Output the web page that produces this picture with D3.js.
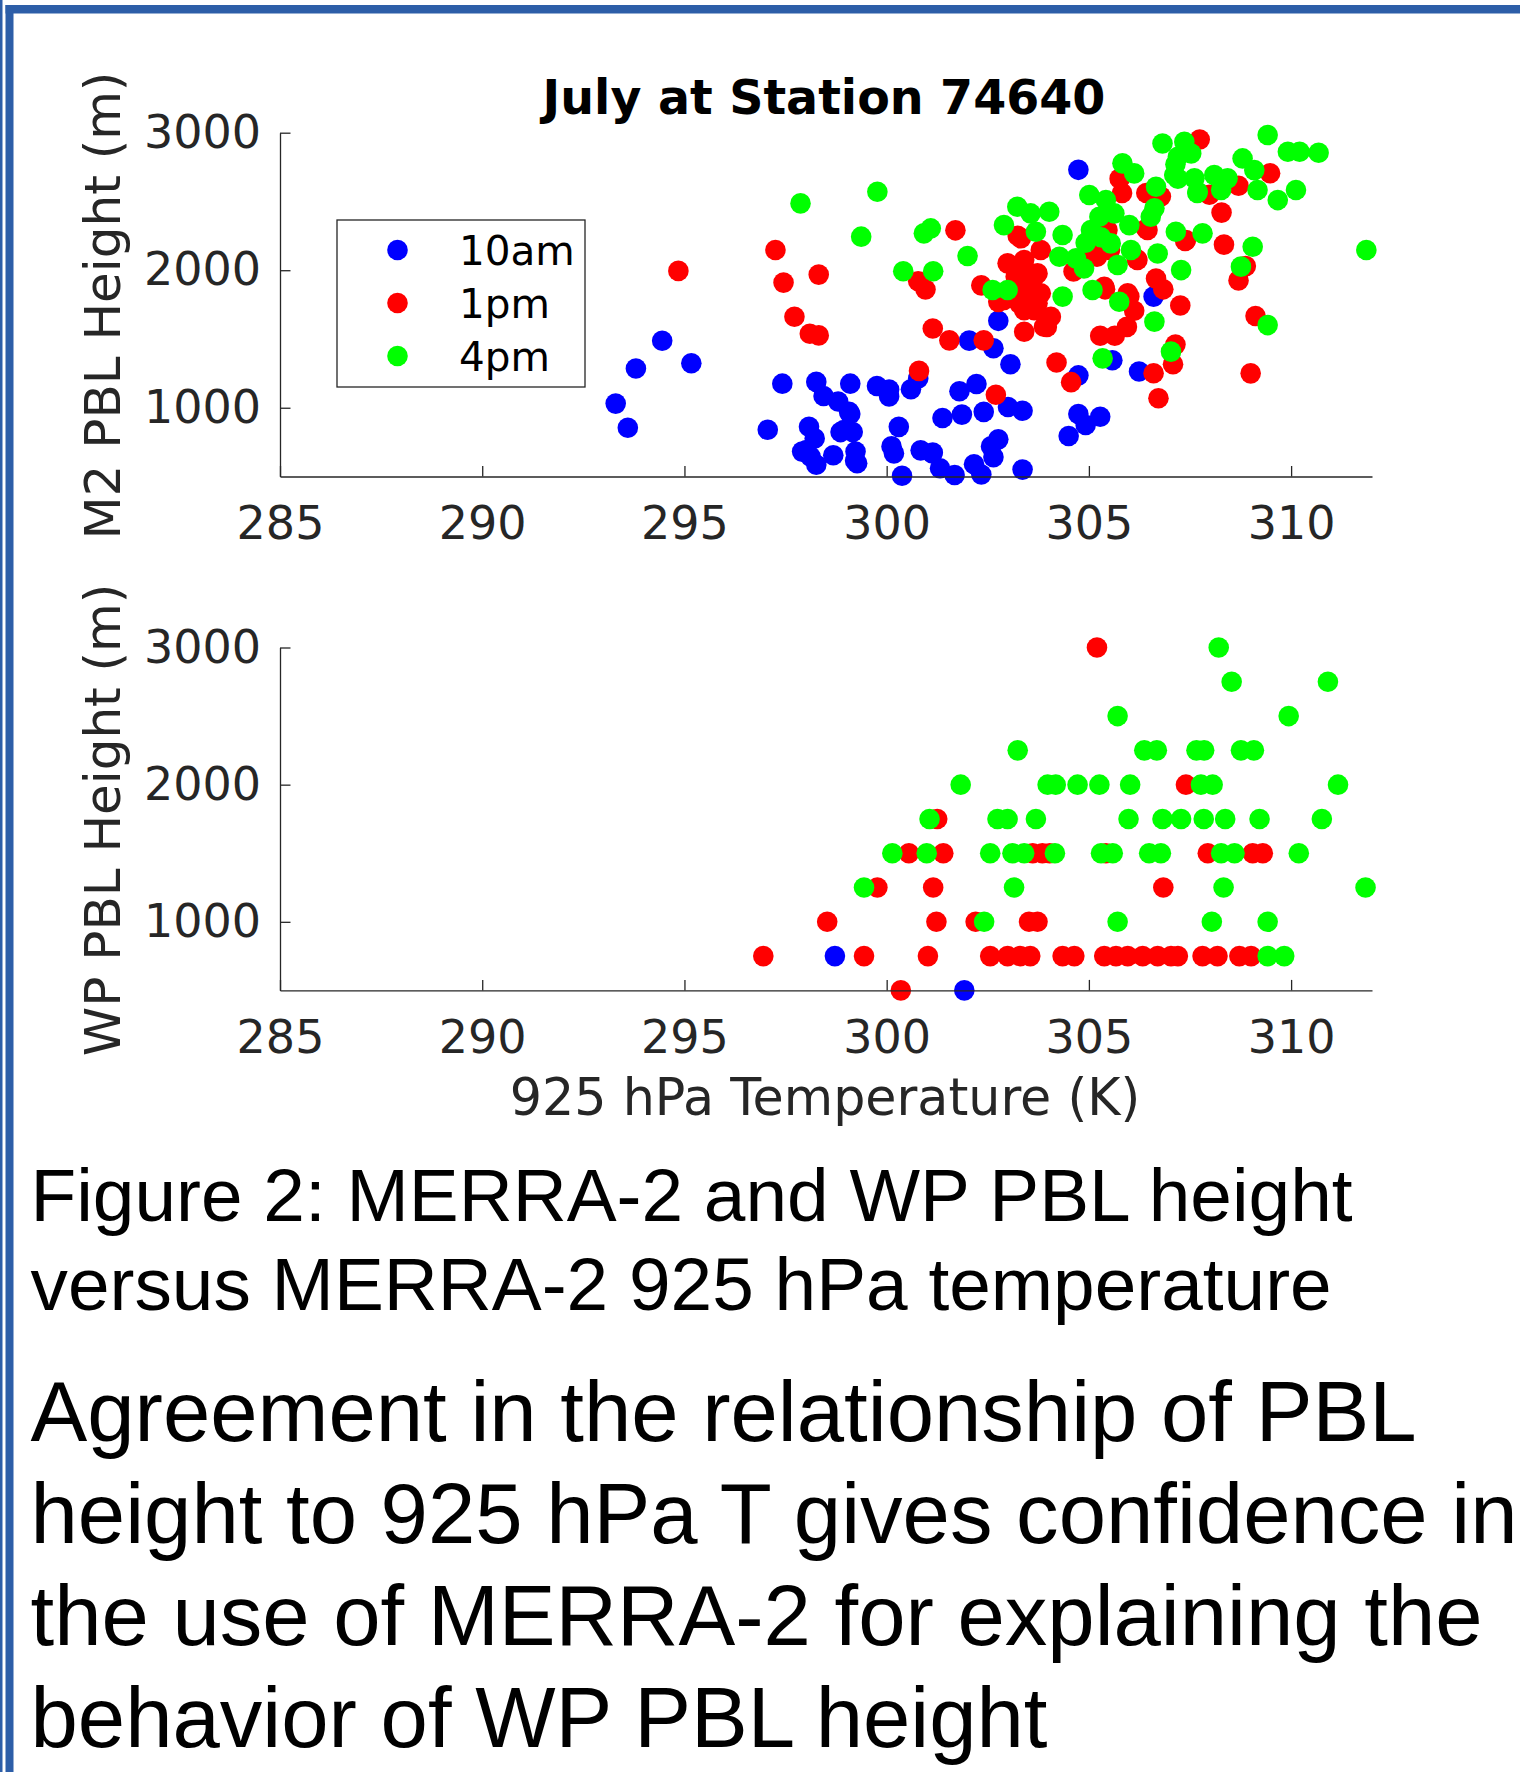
<!DOCTYPE html>
<html>
<head>
<meta charset="utf-8">
<script src="https://cdn.jsdelivr.net/npm/d3@7/dist/d3.min.js"></script>
<style>
  html, body { margin: 0; padding: 0; background: #fff; }
  svg { display: block; }
</style>
</head>
<body>
<script>
// ---- data (925 hPa temperature K, PBL height m) ----
const xTicks = [285, 290, 295, 300, 305, 310];
const yTicks = [1000, 2000, 3000];
const seriesNames = ["10am", "1pm", "4pm"];
const seriesColors = ["#0000ff", "#ff0000", "#00ff00"];

const m2_10am = [
  [293.3,1030],[293.6,855],[293.8,1285],[294.45,1487],[295.17,1323],
  [297.06,840],[297.42,1175],[298.26,1188],[298.44,1085],[298.8,1045],[299.1,1175],[299.1,955],
  [298.08,862],[298.02,693],[297.91,681],[298.26,585],[298.68,655],[298.86,823],[299.16,823],
  [299.22,615],[299.27,596],[299.76,1158],[300.06,1132],[300.06,1082],[300.3,861],[300.12,719],
  [300.18,668],[300.38,505],[300.6,1134],[300.78,1212],[300.84,690],[301.14,675],[301.32,560],
  [301.38,925],[301.68,511],[301.8,1120],[301.86,950],[302.22,1173],[302.16,589],[302.34,515],
  [302.4,970],[302.58,719],[302.76,770],[302.64,641],[303.0,1005],[303.36,978],[303.36,550],
  [304.5,795],[304.74,955],[304.92,874],[305.28,935],[304.74,1235],[305.58,1345],[306.24,1264],
  [306.6,1808],[303.06,1316],[302.64,1433],[302.76,1632],[302.04,1488],[304.74,2730],
  [298.22,777],[298.94,838],[299.07,971],[298.12,644],[299.23,681],[301.13,668]
];
const m2_1pm = [
  [294.85,1995],[297.25,2147],[297.45,1910],[298.32,1968],[297.72,1662],[298.1,1538],[298.32,1526],
  [300.78,1920],[300.96,1860],[301.7,2290],[301.14,1576],[301.55,1490],[300.8,1268],[302.34,1890],
  [302.4,1490],[302.7,1094],[302.76,1770],[302.9,1783],[302.99,2050],[303.19,1953],[303.24,2250],
  [303.32,2232],[303.4,2074],[303.52,1856],[303.28,1759],[303.65,1710],[303.73,1977],[303.81,2147],
  [303.81,1832],[303.89,1589],[303.4,1553],[304.06,1662],[303.96,1588],[304.02,1653],[304.2,1329],
  [304.56,1186],[304.62,1991],[304.97,2147],[305.2,2098],[305.46,2292],[305.38,1880],[305.4,1861],
  [305.28,1524],[305.64,1524],[305.94,1588],[306.12,1705],[306.0,1809],[305.96,1832],[306.2,2074],
  [306.45,2292],[305.76,2666],[305.82,2562],[306.42,2562],[306.78,2536],[306.42,2302],[306.18,2081],
  [306.66,1939],[306.84,1861],[307.26,1744],[307.4,2219],[306.6,1251],[306.72,1069],[307.14,1459],
  [307.08,1316],[307.74,2951],[307.38,2212],[308.28,2419],[308.34,2186],[308.7,2614],[309.48,2705],
  [308.7,1926],[308.88,2030],[309.12,1667],[309.0,1250],[307.98,2549],[305.52,2147],
  [303.4,1999],[303.65,1953],[303.23,1880],[303.56,1832],[303.4,1710],[303.73,1759],[302.82,1783]
];
const m2_4pm = [
  [297.87,2486],[299.77,2571],[299.37,2244],[300.92,2268],[301.09,2304],[302.0,2103],[300.41,1992],
  [301.15,1992],[302.62,1856],[302.99,1856],[302.9,2328],[303.23,2462],[303.56,2413],[304.02,2425],
  [303.69,2280],[304.35,2256],[304.27,2098],[304.68,2086],[304.88,2013],[305.01,2547],[305.42,2510],
  [305.05,2292],[305.26,2389],[305.63,2413],[306.0,2328],[305.54,2195],[306.04,2147],[306.53,2389],
  [306.62,2450],[307.15,2280],[307.81,2268],[305.71,2038],[306.7,2122],[307.28,2001],[305.09,1856],
  [304.35,1808],[305.75,1771],[306.62,1626],[305.34,1359],[307.03,1408],[309.05,2171],[308.76,2026],
  [309.42,1601],[311.86,2147],[305.83,2777],[306.12,2704],[306.66,2607],[306.82,2922],[307.36,2934],
  [307.53,2849],[307.2,2825],[307.11,2692],[307.61,2668],[307.69,2571],[308.1,2692],[308.43,2668],
  [308.27,2583],[308.8,2813],[309.09,2728],[309.17,2583],[309.67,2510],[310.12,2583],[309.42,2983],
  [309.92,2861],[310.21,2861],[310.68,2854],[307.14,2770],[307.2,2666],[307.68,2562],
  [304.92,2200],[305.3,2240]
];

const wp_10am = [[298.72,750],[301.92,500]];
const wp_1pm = [
  [305.2,3000],[307.4,2000],[301.25,1750],
  [300.55,1500],[301.4,1500],[303.61,1500],[303.85,1500],[304.03,1500],[305.42,1500],[307.94,1500],[309.05,1500],[309.3,1500],
  [299.77,1250],[301.15,1250],[306.84,1250],
  [298.53,1000],[301.23,1000],[302.2,1000],[303.52,1000],[303.73,1000],
  [296.95,750],[299.44,750],[301.02,750],[302.56,750],[302.99,750],[303.3,750],[303.55,750],[304.35,750],
  [304.64,750],[305.38,750],[305.67,750],[305.96,750],[306.33,750],[306.7,750],[307.03,750],[307.2,750],
  [307.81,750],[308.18,750],[308.72,750],[309.01,750],
  [300.35,500]
];
const wp_4pm = [
  [308.21,3000],
  [308.53,2750],[310.91,2750],
  [305.71,2500],[309.94,2500],
  [303.24,2250],[306.37,2250],[306.68,2250],[307.66,2250],[307.85,2250],[308.76,2250],[309.08,2250],
  [301.83,2000],[303.98,2000],[304.18,2000],[304.72,2000],[305.26,2000],[306.02,2000],[307.77,2000],[308.06,2000],[311.16,2000],
  [301.06,1750],[302.74,1750],[302.99,1750],[303.69,1750],[305.98,1750],[306.82,1750],[307.28,1750],[307.84,1750],[308.37,1750],[309.22,1750],[310.76,1750],
  [300.14,1500],[300.99,1500],[302.56,1500],[303.11,1500],[303.4,1500],[304.16,1500],[305.3,1500],[305.59,1500],[306.49,1500],[306.78,1500],[308.27,1500],[308.6,1500],[310.19,1500],
  [299.44,1250],[303.15,1250],[308.33,1250],[311.84,1250],
  [302.41,1000],[305.71,1000],[308.04,1000],[309.42,1000],
  [309.42,750],[309.83,750]
];

const captionSmall = ["Figure 2: MERRA-2 and WP PBL height", "versus MERRA-2 925 hPa temperature"];
const captionLarge = ["Agreement in the relationship of PBL", "height to 925 hPa T gives confidence in",
                      "the use of MERRA-2 for explaining the", "behavior of WP PBL height"];

// ---- layout ----
const W = 1520, H = 1772;
const axisFont = "'DejaVu Sans', sans-serif";
const capFont = "'Liberation Sans', Arial, sans-serif";
const ink = "#262626";
const dotR = 10.3;

const svg = d3.select("body").append("svg").attr("width", W).attr("height", H);
svg.append("rect").attr("width", W).attr("height", H).attr("fill", "#fff");

// poster frame
const frameBlue = "#2d5ea8";
svg.append("rect").attr("x", 0).attr("y", 0).attr("width", 2.5).attr("height", H).attr("fill", frameBlue);
svg.append("rect").attr("x", 5.5).attr("y", 5).attr("width", 8).attr("height", H).attr("fill", frameBlue);
svg.append("rect").attr("x", 5.5).attr("y", 5).attr("width", W).attr("height", 8.5).attr("fill", frameBlue);

const x = d3.scaleLinear().domain([285, 312]).range([280, 1372]);

function panel(top, bottom, series, ylabel) {
  const y = d3.scaleLinear().domain([500, 3000]).range([bottom, top]);
  const g = svg.append("g");

  series.forEach((pts, i) => {
    g.append("g").selectAll("circle").data(pts).join("circle")
      .attr("cx", d => x(d[0]))
      .attr("cy", d => y(d[1]))
      .attr("r", dotR)
      .attr("fill", seriesColors[i]);
  });

  const ax = g.append("g").attr("transform", `translate(0,${bottom})`)
    .call(d3.axisBottom(x).tickValues(xTicks).tickFormat(d3.format("d")).tickSizeInner(-10.5).tickSizeOuter(0).tickPadding(30));
  const ay = g.append("g").attr("transform", `translate(280,0)`)
    .call(d3.axisLeft(y).tickValues(yTicks).tickFormat(d3.format("d")).tickSizeInner(-10.5).tickSizeOuter(0).tickPadding(19));
  [ax, ay].forEach(a => {
    a.selectAll("path, line").attr("stroke", ink).attr("stroke-width", 1.3);
    a.selectAll("text").attr("fill", ink).style("font-family", axisFont).style("font-size", "46px");
  });

  g.append("text")
    .attr("transform", `translate(120,${(top + bottom) / 2 + 1}) rotate(-90)`)
    .attr("text-anchor", "middle")
    .style("font-family", axisFont).style("font-size", "50px").attr("fill", ink)
    .text(ylabel);
  return y;
}

panel(132.7, 476.5, [m2_10am, m2_1pm, m2_4pm], "M2 PBL Height (m)");
panel(647.5, 990.4, [wp_10am, wp_1pm, wp_4pm], "WP PBL Height (m)");

// title and x label
svg.append("text").attr("x", 824).attr("y", 114).attr("text-anchor", "middle")
  .style("font-family", axisFont).style("font-size", "47.5px").style("font-weight", "bold")
  .attr("fill", "#000").text("July at Station 74640");
svg.append("text").attr("x", 825).attr("y", 1115).attr("text-anchor", "middle")
  .style("font-family", axisFont).style("font-size", "50.7px").attr("fill", ink)
  .text("925 hPa Temperature (K)");

// legend
const lg = svg.append("g");
lg.append("rect").attr("x", 337).attr("y", 220).attr("width", 248).attr("height", 167)
  .attr("fill", "#fff").attr("stroke", ink).attr("stroke-width", 1.3);
seriesNames.forEach((name, i) => {
  const yy = 250 + i * 53;
  lg.append("circle").attr("cx", 397.5).attr("cy", yy).attr("r", dotR).attr("fill", seriesColors[i]);
  lg.append("text").attr("x", 459).attr("y", yy).attr("dy", "0.36em")
    .style("font-family", axisFont).style("font-size", "40.5px").attr("fill", "#000").text(name);
});

// caption
captionSmall.forEach((t, i) => {
  svg.append("text").attr("x", 30.5).attr("y", 1221 + i * 89)
    .style("font-family", capFont).style("font-size", "74.8px")
    .attr("fill", "#000").text(t);
});
captionLarge.forEach((t, i) => {
  svg.append("text").attr("x", 30.5).attr("y", 1441 + i * 102)
    .style("font-family", capFont).style("font-size", "85.1px")
    .attr("fill", "#000").text(t);
});
</script>
</body>
</html>
